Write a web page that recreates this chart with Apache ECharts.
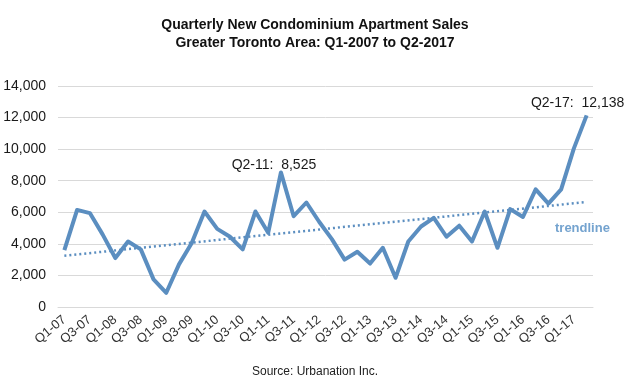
<!DOCTYPE html>
<html>
<head>
<meta charset="utf-8">
<script src="https://cdn.jsdelivr.net/npm/echarts@6/dist/echarts.min.js"></script>
<style>
html,body{margin:0;padding:0;background:#fff;}
#chart{width:630px;height:387px;}
</style>
</head>
<body>
<div id="chart"></div>
<script>
const categories = [
  'Q1-07','Q2-07','Q3-07','Q4-07','Q1-08','Q2-08','Q3-08','Q4-08',
  'Q1-09','Q2-09','Q3-09','Q4-09','Q1-10','Q2-10','Q3-10','Q4-10',
  'Q1-11','Q2-11','Q3-11','Q4-11','Q1-12','Q2-12','Q3-12','Q4-12',
  'Q1-13','Q2-13','Q3-13','Q4-13','Q1-14','Q2-14','Q3-14','Q4-14',
  'Q1-15','Q2-15','Q3-15','Q4-15','Q1-16','Q2-16','Q3-16','Q4-16',
  'Q1-17','Q2-17'
];
const sales = [
  3600, 6150, 5950, 4600, 3100, 4150, 3650, 1750,
  900, 2700, 4050, 6050, 4950, 4450, 3650, 6050,
  4700, 8525, 5750, 6620, 5400, 4300, 3000, 3500,
  2750, 3750, 1850, 4150, 5100, 5650, 4450, 5150,
  4150, 6050, 3750, 6200, 5700, 7450, 6550, 7450,
  10050, 12138
];
const trendStart = 3250;
const trendEnd = 6650;
const yTicks = { min: 0, max: 14000, interval: 2000 };
const callouts = [
  { index: 17, text: 'Q2-11:  8,525', offset: [-7, 5] },
  { index: 41, text: 'Q2-17:  12,138', offset: [-9, 0] }
];

const fmt = n => n.toLocaleString('en-US');
const lineColor = '#5b8ec0';
const font = 'Liberation Sans, Arial, sans-serif';

const chart = echarts.init(document.getElementById('chart'), null, { renderer: 'canvas' });
chart.setOption({
  backgroundColor: '#ffffff',
  animation: false,
  title: {
    text: 'Quarterly New Condominium Apartment Sales\nGreater Toronto Area: Q1-2007 to Q2-2017',
    left: 'center', top: 11,
    textStyle: { fontSize: 14, fontWeight: 'bold', color: '#111', lineHeight: 18, fontFamily: font }
  },
  grid: { left: 58, right: 37, top: 86, bottom: 80 },
  xAxis: {
    type: 'category', data: categories, boundaryGap: true,
    axisLine: { show: true, lineStyle: { color: '#d9d9d9' } },
    axisTick: { show: false },
    axisLabel: { interval: 1, rotate: 40, margin: 11, fontSize: 13, color: '#333', fontFamily: font }
  },
  yAxis: {
    type: 'value', min: yTicks.min, max: yTicks.max, interval: yTicks.interval,
    axisLine: { show: false }, axisTick: { show: false },
    splitLine: { lineStyle: { color: '#d9d9d9', width: 1 } },
    axisLabel: { margin: 12, fontSize: 14, color: '#1a1a1a', formatter: v => fmt(v), fontFamily: font }
  },
  series: [{
    type: 'line', data: sales, symbol: 'none',
    lineStyle: { color: lineColor, width: 4, join: 'round' },
    itemStyle: { color: lineColor },
    markPoint: {
      silent: true,
      symbol: 'circle', symbolSize: 0,
      data: callouts.map(c => ({
        coord: [c.index, sales[c.index]],
        label: {
          show: true, position: 'top', distance: 5, offset: c.offset,
          formatter: c.text, color: '#1a1a1a', fontSize: 14, fontFamily: font
        }
      }))
    },
    markLine: {
      silent: true, symbol: 'none',
      lineStyle: { color: lineColor, width: 2.5, type: [2, 3] },
      label: { show: false },
      data: [[{ coord: [0, trendStart] }, { coord: [categories.length - 1, trendEnd] }]]
    }
  }],
  graphic: [
    { type: 'text', left: 555, top: 222,
      style: { text: 'trendline', fill: '#74a3cf', fontSize: 13, fontWeight: 'bold', fontFamily: font } },
    { type: 'text', left: 'center', top: 366,
      style: { text: 'Source: Urbanation Inc.', fill: '#222', fontSize: 12, fontFamily: font } }
  ]
});
</script>
</body>
</html>
